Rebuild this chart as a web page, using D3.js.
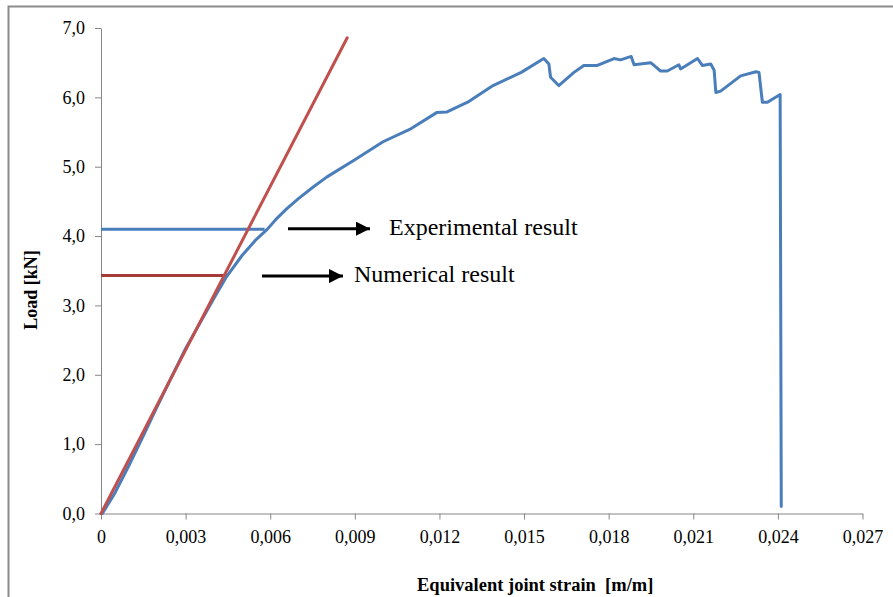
<!DOCTYPE html>
<html lang="en">
<head>
    <meta charset="UTF-8">
    <title>Load vs equivalent joint strain</title>
    <script src="https://d3js.org/d3.v7.min.js"></script>
    <style>
        body {
            margin: 0;
            padding: 0;
            background: #fff;
        }

        svg {
            display: block;
            font-family: "Liberation Serif", "Times New Roman", serif;
        }

        .axis path, .axis line {
            stroke: #868686;
        }

        .axis text {
            fill: #000;
        }
    </style>
</head>
<body>
    <svg id="chart" width="893" height="597"></svg>

    <script>
        // experimental curve
        const expStrain = [0, 0.00005, 0.0005, 0.001, 0.0015, 0.002, 0.003, 0.004, 0.00446, 0.005, 0.0055, 0.0059,
            0.0062, 0.0066, 0.007, 0.0075, 0.008, 0.009, 0.010, 0.011, 0.0119, 0.01227, 0.013, 0.0139, 0.0149, 0.0157,
            0.01588, 0.01594, 0.01623, 0.01677, 0.01712, 0.0176, 0.01819, 0.01842, 0.0188, 0.0189,
            0.01949, 0.01967, 0.01984, 0.02008, 0.02049, 0.02055, 0.02115, 0.02132, 0.02162, 0.02174,
            0.0218, 0.02197, 0.02268, 0.02322, 0.02333, 0.02345, 0.02363, 0.02408, 0.02412];
        const expLoad = [0, 0, 0.3, 0.7, 1.12, 1.55, 2.38, 3.1, 3.42, 3.72, 3.95, 4.1,
            4.24, 4.4, 4.54, 4.7, 4.85, 5.1, 5.36, 5.55, 5.78, 5.79, 5.93, 6.17, 6.36, 6.56,
            6.48, 6.29, 6.17, 6.36, 6.46, 6.46, 6.56, 6.54, 6.59, 6.47,
            6.5, 6.44, 6.38, 6.38, 6.47, 6.41, 6.56, 6.46, 6.48, 6.39,
            6.07, 6.09, 6.31, 6.37, 6.36, 5.93, 5.93, 6.04, 0.1];

        // numerical (linear) result
        const numStrain = [0, 0.00873];
        const numLoad = [0, 6.86];

        // annotation levels
        const expLevel = { load: 4.1, strain: 0.0058 };
        const numLevel = { load: 3.43, strain: 0.0045 };

        const xTicks = [0, 0.003, 0.006, 0.009, 0.012, 0.015, 0.018, 0.021, 0.024, 0.027];
        const yTicks = [0, 1, 2, 3, 4, 5, 6, 7];

        const svg = d3.select("#chart");
        const serif = '"Liberation Serif", "Times New Roman", serif';

        // outer frame (left + top only visible)
        svg.append("path")
            .attr("d", "M8.5,597 L8.5,6.5 L893,6.5")
            .attr("fill", "none")
            .attr("stroke", "#8c8c8c")
            .attr("stroke-width", 2);

        const x = d3.scaleLinear().domain([0, 0.027]).range([101, 862.5]);
        const y = d3.scaleLinear().domain([0, 7]).range([513.5, 28]);

        const comma = v => d3.format(".1f")(v).replace(".", ",");
        const commaX = v => v === 0 ? "0" : d3.format(".3f")(v).replace(".", ",");

        svg.append("g")
            .attr("class", "axis")
            .attr("transform", `translate(0,${y(0)})`)
            .call(d3.axisBottom(x).tickValues(xTicks).tickFormat(commaX).tickSize(6).tickSizeOuter(0).tickPadding(11))
            .attr("font-family", serif)
            .attr("font-size", 18);

        svg.append("g")
            .attr("class", "axis")
            .attr("transform", `translate(${x(0)},0)`)
            .call(d3.axisLeft(y).tickValues(yTicks).tickFormat(comma).tickSize(6).tickSizeOuter(0).tickPadding(10))
            .attr("font-family", serif)
            .attr("font-size", 18);

        // axis titles
        svg.append("text")
            .attr("x", 417)
            .attr("y", 591)
            .attr("font-size", "18.5px")
            .attr("font-weight", "bold")
            .style("white-space", "pre")
            .text("Equivalent joint strain  [m/m]");

        svg.append("text")
            .attr("transform", "translate(37,290) rotate(-90)")
            .attr("text-anchor", "middle")
            .attr("font-size", "18px")
            .attr("font-weight", "bold")
            .text("Load [kN]");

        const line = d3.line().x(d => x(d[0])).y(d => y(d[1]));

        // horizontal markers
        svg.append("path")
            .datum([[0, expLevel.load], [expLevel.strain, expLevel.load]])
            .attr("d", line)
            .attr("stroke", "#4a7ebb")
            .attr("stroke-width", 3)
            .attr("fill", "none");

        svg.append("path")
            .datum([[0, numLevel.load], [numLevel.strain, numLevel.load]])
            .attr("d", line)
            .attr("stroke", "#a53c3a")
            .attr("stroke-width", 3)
            .attr("fill", "none");

        svg.append("path")
            .datum(expStrain.map((s, i) => [s, expLoad[i]]))
            .attr("d", line)
            .attr("stroke", "#4a7ebb")
            .attr("stroke-width", 3)
            .attr("stroke-linejoin", "round")
            .attr("stroke-linecap", "round")
            .attr("fill", "none");

        svg.append("path")
            .datum(numStrain.map((s, i) => [s, numLoad[i]]))
            .attr("d", line)
            .attr("stroke", "#c0504d")
            .attr("stroke-width", 3)
            .attr("stroke-linecap", "round")
            .attr("fill", "none");

        // arrows and labels
        const defs = svg.append("defs");
        defs.append("marker")
            .attr("id", "head")
            .attr("viewBox", "0 0 10 10")
            .attr("refX", 10)
            .attr("refY", 5)
            .attr("markerUnits", "userSpaceOnUse")
            .attr("markerWidth", 15)
            .attr("markerHeight", 14)
            .attr("orient", "auto")
            .append("path")
            .attr("d", "M0,0 L10,5 L0,10 Z")
            .attr("fill", "#000");

        const notes = [
            { x1: 288, x2: 370, yv: y(expLevel.load) - 0.5, tx: 389, text: "Experimental result" },
            { x1: 262, x2: 343, yv: y(numLevel.load) + 0.5, tx: 354, text: "Numerical result" }
        ];

        notes.forEach(n => {
            svg.append("line")
                .attr("x1", n.x1).attr("x2", n.x2)
                .attr("y1", n.yv).attr("y2", n.yv)
                .attr("stroke", "#000")
                .attr("stroke-width", 3)
                .attr("marker-end", "url(#head)");
            svg.append("text")
                .attr("x", n.tx)
                .attr("y", n.yv + 6)
                .attr("font-size", "24px")
                .text(n.text);
        });
    </script>
</body>
</html>
